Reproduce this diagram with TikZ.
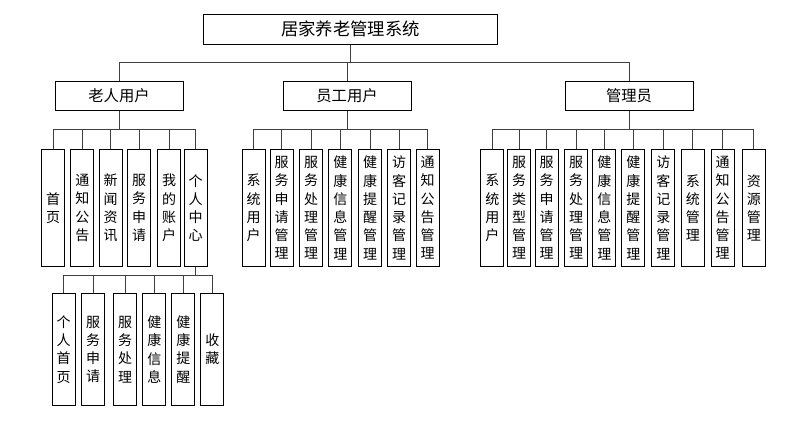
\documentclass[tikz,border=0pt]{standalone}
\usepackage{fontspec}
\newfontfamily\cjk{Noto Sans CJK SC}

\begin{document}
\begin{tikzpicture}[
  x=0.75pt, y=-0.75pt,
  root/.style={rectangle,draw=black,line width=0.75pt,minimum width=221pt,minimum height=22.5pt,inner sep=0pt,font=\cjk\fontsize{13}{15}\selectfont},
  role/.style={rectangle,draw=black,line width=0.75pt,minimum width=96pt,minimum height=21.75pt,inner sep=0pt,font=\cjk\fontsize{11.5}{14}\selectfont},
  func/.style={rectangle,draw=black,line width=0.75pt,minimum width=17.5pt,minimum height=88pt,inner sep=0pt,align=center,font=\cjk\fontsize{10.5}{13.7}\selectfont},
  subfunc/.style={func,minimum height=84.3pt},
  link/.style={draw=black!75,line width=0.75pt}
]
\useasboundingbox (0,0) rectangle (789,423);

% top and roles
\node[root] (sys) at (350.5,29.3) {居家养老管理系统};
\node[role] (old) at (119,96) {老人用户};
\node[role] (staff) at (347,96) {员工用户};
\node[role] (admin) at (629,96) {管理员};

% elderly user
\node[func] (o1) at (53,208) {首\\页};
\node[func] (o2) at (82.3,208) {通\\知\\公\\告};
\node[func] (o3) at (110.7,208) {新\\闻\\资\\讯};
\node[func] (o4) at (139,208) {服\\务\\申\\请};
\node[func] (o5) at (169,208) {我\\的\\账\\户};
\node[func] (o6) at (195.7,208) {个\\人\\中\\心};

% personal center
\node[subfunc] (p1) at (63.7,349.5) {个\\人\\首\\页};
\node[subfunc] (p2) at (93,349.5) {服\\务\\申\\请};
\node[subfunc] (p3) at (125,349.5) {服\\务\\处\\理};
\node[subfunc] (p4) at (154.3,349.5) {健\\康\\信\\息};
\node[subfunc] (p5) at (183.3,349.5) {健\\康\\提\\醒};
\node[subfunc] (p6) at (212.3,349.5) {收\\藏};

% staff user
\node[func] (s1) at (253.7,208) {系\\统\\用\\户};
\node[func] (s2) at (281.7,208) {服\\务\\申\\请\\管\\理};
\node[func] (s3) at (311,208) {服\\务\\处\\理\\管\\理};
\node[func] (s4) at (340.3,208) {健\\康\\信\\息\\管\\理};
\node[func] (s5) at (370,208) {健\\康\\提\\醒\\管\\理};
\node[func] (s6) at (399,208) {访\\客\\记\\录\\管\\理};
\node[func] (s7) at (427.7,208) {通\\知\\公\\告\\管\\理};

% administrator
\node[func] (m1) at (492.3,208) {系\\统\\用\\户};
\node[func] (m2) at (519.2,208) {服\\务\\类\\型\\管\\理};
\node[func] (m3) at (546.7,208) {服\\务\\申\\请\\管\\理};
\node[func] (m4) at (576,208) {服\\务\\处\\理\\管\\理};
\node[func] (m5) at (604.3,208) {健\\康\\信\\息\\管\\理};
\node[func] (m6) at (633.3,208) {健\\康\\提\\醒\\管\\理};
\node[func] (m7) at (663.3,208) {访\\客\\记\\录\\管\\理};
\node[func] (m8) at (692.8,208) {系\\统\\管\\理};
\node[func] (m9) at (722.7,208) {通\\知\\公\\告\\管\\理};
\node[func] (m10) at (753.8,208) {资\\源\\管\\理};

% connectors
\foreach \c in {old,staff,admin}
  \draw[link] (sys.south) -- ++(0,18) -| (\c.north);
\foreach \i in {1,...,6}
  \draw[link] (old.south) -- ++(0,19) -| (o\i.north);
\foreach \i in {1,...,7}
  \draw[link] (staff.south) -- ++(0,19) -| (s\i.north);
\foreach \i in {1,...,10}
  \draw[link] (admin.south) -- ++(0,19) -| (m\i.north);
\foreach \i in {1,...,6}
  \draw[link] (o6.south) -- ++(0,8) -| (p\i.north);
\end{tikzpicture}
\end{document}
